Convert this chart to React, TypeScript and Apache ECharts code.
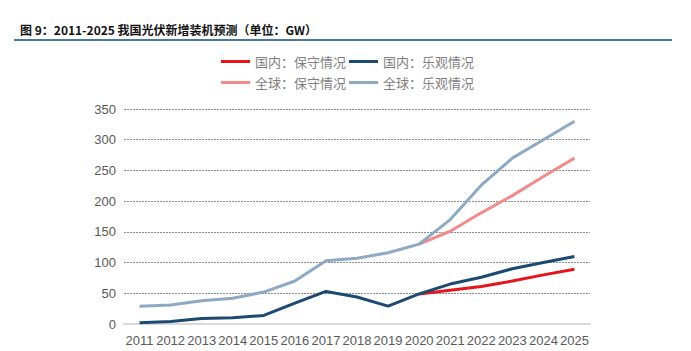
import React, { useEffect, useRef } from "react";
import * as echarts from "echarts";

const years = ["2011","2012","2013","2014","2015","2016","2017","2018","2019","2020","2021","2022","2023","2024","2025"];
const domesticConservative = [null,null,null,null,null,null,null,null,null,49,55,61,70,80,89];
const domesticOptimistic = [2,4,9,10,14,34,53,44,29,49,65,76,90,100,110];
const globalConservative = [null,null,null,null,null,null,null,null,null,130,151,181,209,240,270];
const globalOptimistic = [29,31,38,42,52,70,103,107,116,130,170,226,270,300,330];
const seriesNames = ["国内：保守情况","国内：乐观情况","全球：保守情况","全球：乐观情况"];
const titleText = "图 9：2011-2025 我国光伏新增装机预测（单位：GW）";

export default function App() {
  const ref = useRef<HTMLDivElement>(null);
  useEffect(() => {
    document.body.style.margin = "0";
    const chart = echarts.init(ref.current!, null, { renderer: "svg" });
    const legendText = { color: "#7f7f7f", fontSize: 13, fontFamily: "Noto Sans CJK SC" };
    const mk = (name: string, data: any[], color: string, z: number) => ({
      name, type: "line", data, symbol: "none", z,
      lineStyle: { color, width: 3 }, itemStyle: { color },
      connectNulls: false,
    });
    chart.setOption({
      animation: false,
      backgroundColor: "#ffffff",
      graphic: [
        { type: "text", left: 20, top: 23, style: { text: titleText, fontSize: 12, fontWeight: "bold", fill: "#111", fontFamily: "Noto Sans CJK SC" } },
        { type: "line", shape: { x1: 14, y1: 40, x2: 672, y2: 40 }, style: { stroke: "#4a78a0", lineWidth: 2 } },
      ],
      legend: [
        { data: [seriesNames[0], seriesNames[1]], left: 221, top: 55, itemWidth: 29, itemHeight: 3, itemGap: 3, icon: "rect", textStyle: legendText, padding: 0 },
        { data: [seriesNames[2], seriesNames[3]], left: 221, top: 76, itemWidth: 29, itemHeight: 3, itemGap: 3, icon: "rect", textStyle: legendText, padding: 0 },
      ],
      grid: { left: 124, right: 101, top: 109, bottom: 27, containLabel: false },
      xAxis: {
        type: "category", data: years, boundaryGap: true,
        axisLine: { lineStyle: { color: "#d9d9d9", width: 2 } },
        axisTick: { show: false },
        axisLabel: { color: "#595959", fontSize: 13, fontFamily: "Liberation Sans", margin: 10, interval: 0 },
      },
      yAxis: {
        type: "value", min: 0, max: 350, interval: 50,
        axisLine: { show: false }, axisTick: { show: false },
        axisLabel: { color: "#595959", fontSize: 13, fontFamily: "Liberation Sans", margin: 8 },
        splitLine: { lineStyle: { color: "#8c8c8c", type: [2, 1], width: 1 } },
      },
      series: [
        mk(seriesNames[0], domesticConservative, "#e8141b", 2),
        mk(seriesNames[1], domesticOptimistic, "#1c4a72", 3),
        mk(seriesNames[2], globalConservative, "#f28b8b", 2),
        mk(seriesNames[3], globalOptimistic, "#8ea9c3", 3),
      ],
    });
    return () => chart.dispose();
  }, []);
  return <div ref={ref} style={{ width: 691, height: 351 }} />;
}
